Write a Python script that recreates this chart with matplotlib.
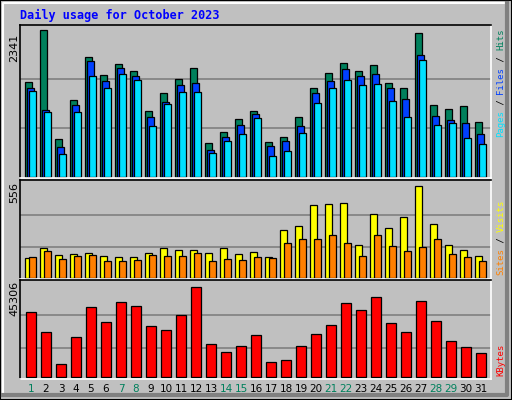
import matplotlib
matplotlib.use("Agg")
import matplotlib.pyplot as plt
from matplotlib.patches import Rectangle
from matplotlib.lines import Line2D
import numpy as np

days = list(range(1, 32))
weekend = [1, 7, 8, 14, 15, 21, 22, 28, 29]
hits = [1513, 2341, 605, 1226, 1911, 1624, 1800, 1688, 1051, 1338, 1561, 1736, 541, 717, 924, 1051,
        557, 637, 955, 1417, 1656, 1815, 1688, 1784, 1497, 1417, 2293, 1147, 1083, 1131, 876]
files = [1417, 1067, 478, 1147, 1847, 1529, 1736, 1608, 955, 1194, 1465, 1497, 430, 637, 828, 1003,
         494, 573, 812, 1338, 1529, 1720, 1608, 1640, 1417, 1242, 1943, 971, 908, 860, 685]
pages = [1370, 1035, 366, 1035, 1608, 1417, 1640, 1545, 812, 1163, 1354, 1354, 382, 573, 685, 940,
         334, 414, 701, 1178, 1417, 1545, 1465, 1481, 1210, 955, 1863, 828, 860, 621, 526]
visits = [117, 177, 135, 141, 147, 129, 122, 122, 147, 177, 165, 165, 147, 177, 141, 153,
          122, 285, 309, 442, 448, 454, 195, 387, 297, 369, 556, 321, 195, 165, 129]
sites = [122, 159, 110, 129, 135, 98, 98, 104, 135, 129, 129, 147, 98, 110, 104, 122,
         117, 207, 231, 231, 255, 207, 129, 255, 189, 159, 183, 231, 141, 122, 98]
kbytes = [32408, 22485, 6614, 19999, 34889, 27448, 37370, 35385, 25462, 23477, 30919, 45306,
          16537, 12568, 15545, 21001, 7607, 8599, 15545, 21497, 25958, 36874, 33401, 40345,
          26953, 22485, 37866, 27945, 18026, 15048, 12072]

BG = "#C0C0C0"
fig = plt.figure(figsize=(5.12, 4.0), dpi=100, facecolor=BG)
W, H = 512, 400

# outer bevel
fig.add_artist(Rectangle((0, 0), 1, 1, transform=fig.transFigure, fill=False, ec="black", lw=1.5))
fig.add_artist(Line2D([3/W, 3/W, 505/W], [6/H, 397/H, 397/H], transform=fig.transFigure, color="white", lw=1.5))
fig.add_artist(Line2D([3/W, 507/W, 507/W], [5/H, 5/H, 397/H], transform=fig.transFigure, color="#808080", lw=3))

def mkax(top, bottom):
    ax = fig.add_axes([20/W, 1-bottom/H, 471/W, (bottom-top)/H], facecolor=BG)
    ax.set_xlim(0, 471)
    ax.set_xticks([]); ax.set_yticks([])
    for s in ["left", "top"]:
        ax.spines[s].set_color("black"); ax.spines[s].set_linewidth(1.2)
    for s in ["right", "bottom"]:
        ax.spines[s].set_color("white"); ax.spines[s].set_linewidth(1.2)
    return ax

x = np.array(days) - 1
slot = 15.0
kw = dict(edgecolor="black", linewidth=0.9, align="edge")

ax1 = mkax(25, 178)
top1 = max(hits) * 152 / 147
ax1.set_ylim(-1*top1/152, top1)
for f in (0.333, 0.667):
    ax1.axhline(max(hits) * f, color="#808080", lw=1.2, zorder=0)
ax1.bar(x*slot + 5.3, hits, 7, color="#00805C", **kw)
ax1.bar(x*slot + 7.3, files, 7, color="#0040FF", **kw)
ax1.bar(x*slot + 9.3, pages, 7, color="#00E0FF", **kw)

ax2 = mkax(180, 279)
top2 = max(visits) * 98 / 92.3
ax2.set_ylim(-1.5*top2/98, top2)
for f in (0.33, 0.686):
    ax2.axhline(max(visits) * f, color="#808080", lw=1.2, zorder=0)
ax2.bar(x*slot + 5.3, visits, 7, color="#FFFF00", **kw)
ax2.bar(x*slot + 9.3, sites, 7, color="#FF8000", **kw)

ax3 = mkax(280, 379)
top3 = max(kbytes) * 98 / 91.3
ax3.set_ylim(-2*top3/98, top3)
for f in (0.325, 0.682):
    ax3.axhline(max(kbytes) * f, color="#808080", lw=1.2, zorder=0)
ax3.bar(x*slot + 6.3, kbytes, 10, color="#FF0000", **kw)

mono = "DejaVu Sans Mono"
fig.text(20/W, 1-15/H, "Daily usage for October 2023", color="#0000FF", fontsize=8.5,
         fontweight="bold", family=mono, va="center")
for lab, yc in (("2341", 48), ("556", 193), ("45306", 298)):
    fig.text(14/W, 1-yc/H, lab, rotation=90, fontsize=8, va="center", ha="center", family="DejaVu Sans")

for d in days:
    fig.text((20 + (d-1)*slot + 11)/W, 1-389/H, str(d), fontsize=7.5, ha="center", va="center",
             color="#00805C" if d in weekend else "black", family="DejaVu Sans")

FS = 6.5
CH = 0.6 * FS * 100 / 72
def rlabel(parts, ybot):
    yy = ybot
    for t, c in parts:
        fig.text(501/W, 1-yy/H, t, rotation=90, color=c, fontsize=FS, family=mono,
                 va="bottom", ha="center")
        yy -= len(t) * CH
rlabel([("Pages", "#00E0FF"), (" / ", "#000000"), ("Files", "#0040FF"), (" / ", "#000000"), ("Hits", "#00805C")], 137)
rlabel([("Sites", "#FF8000"), (" / ", "#000000"), ("Visits", "#FFFF00")], 275)
rlabel([("KBytes", "#FF0000")], 376)

fig.savefig("out.png", dpi=100, facecolor=BG)
